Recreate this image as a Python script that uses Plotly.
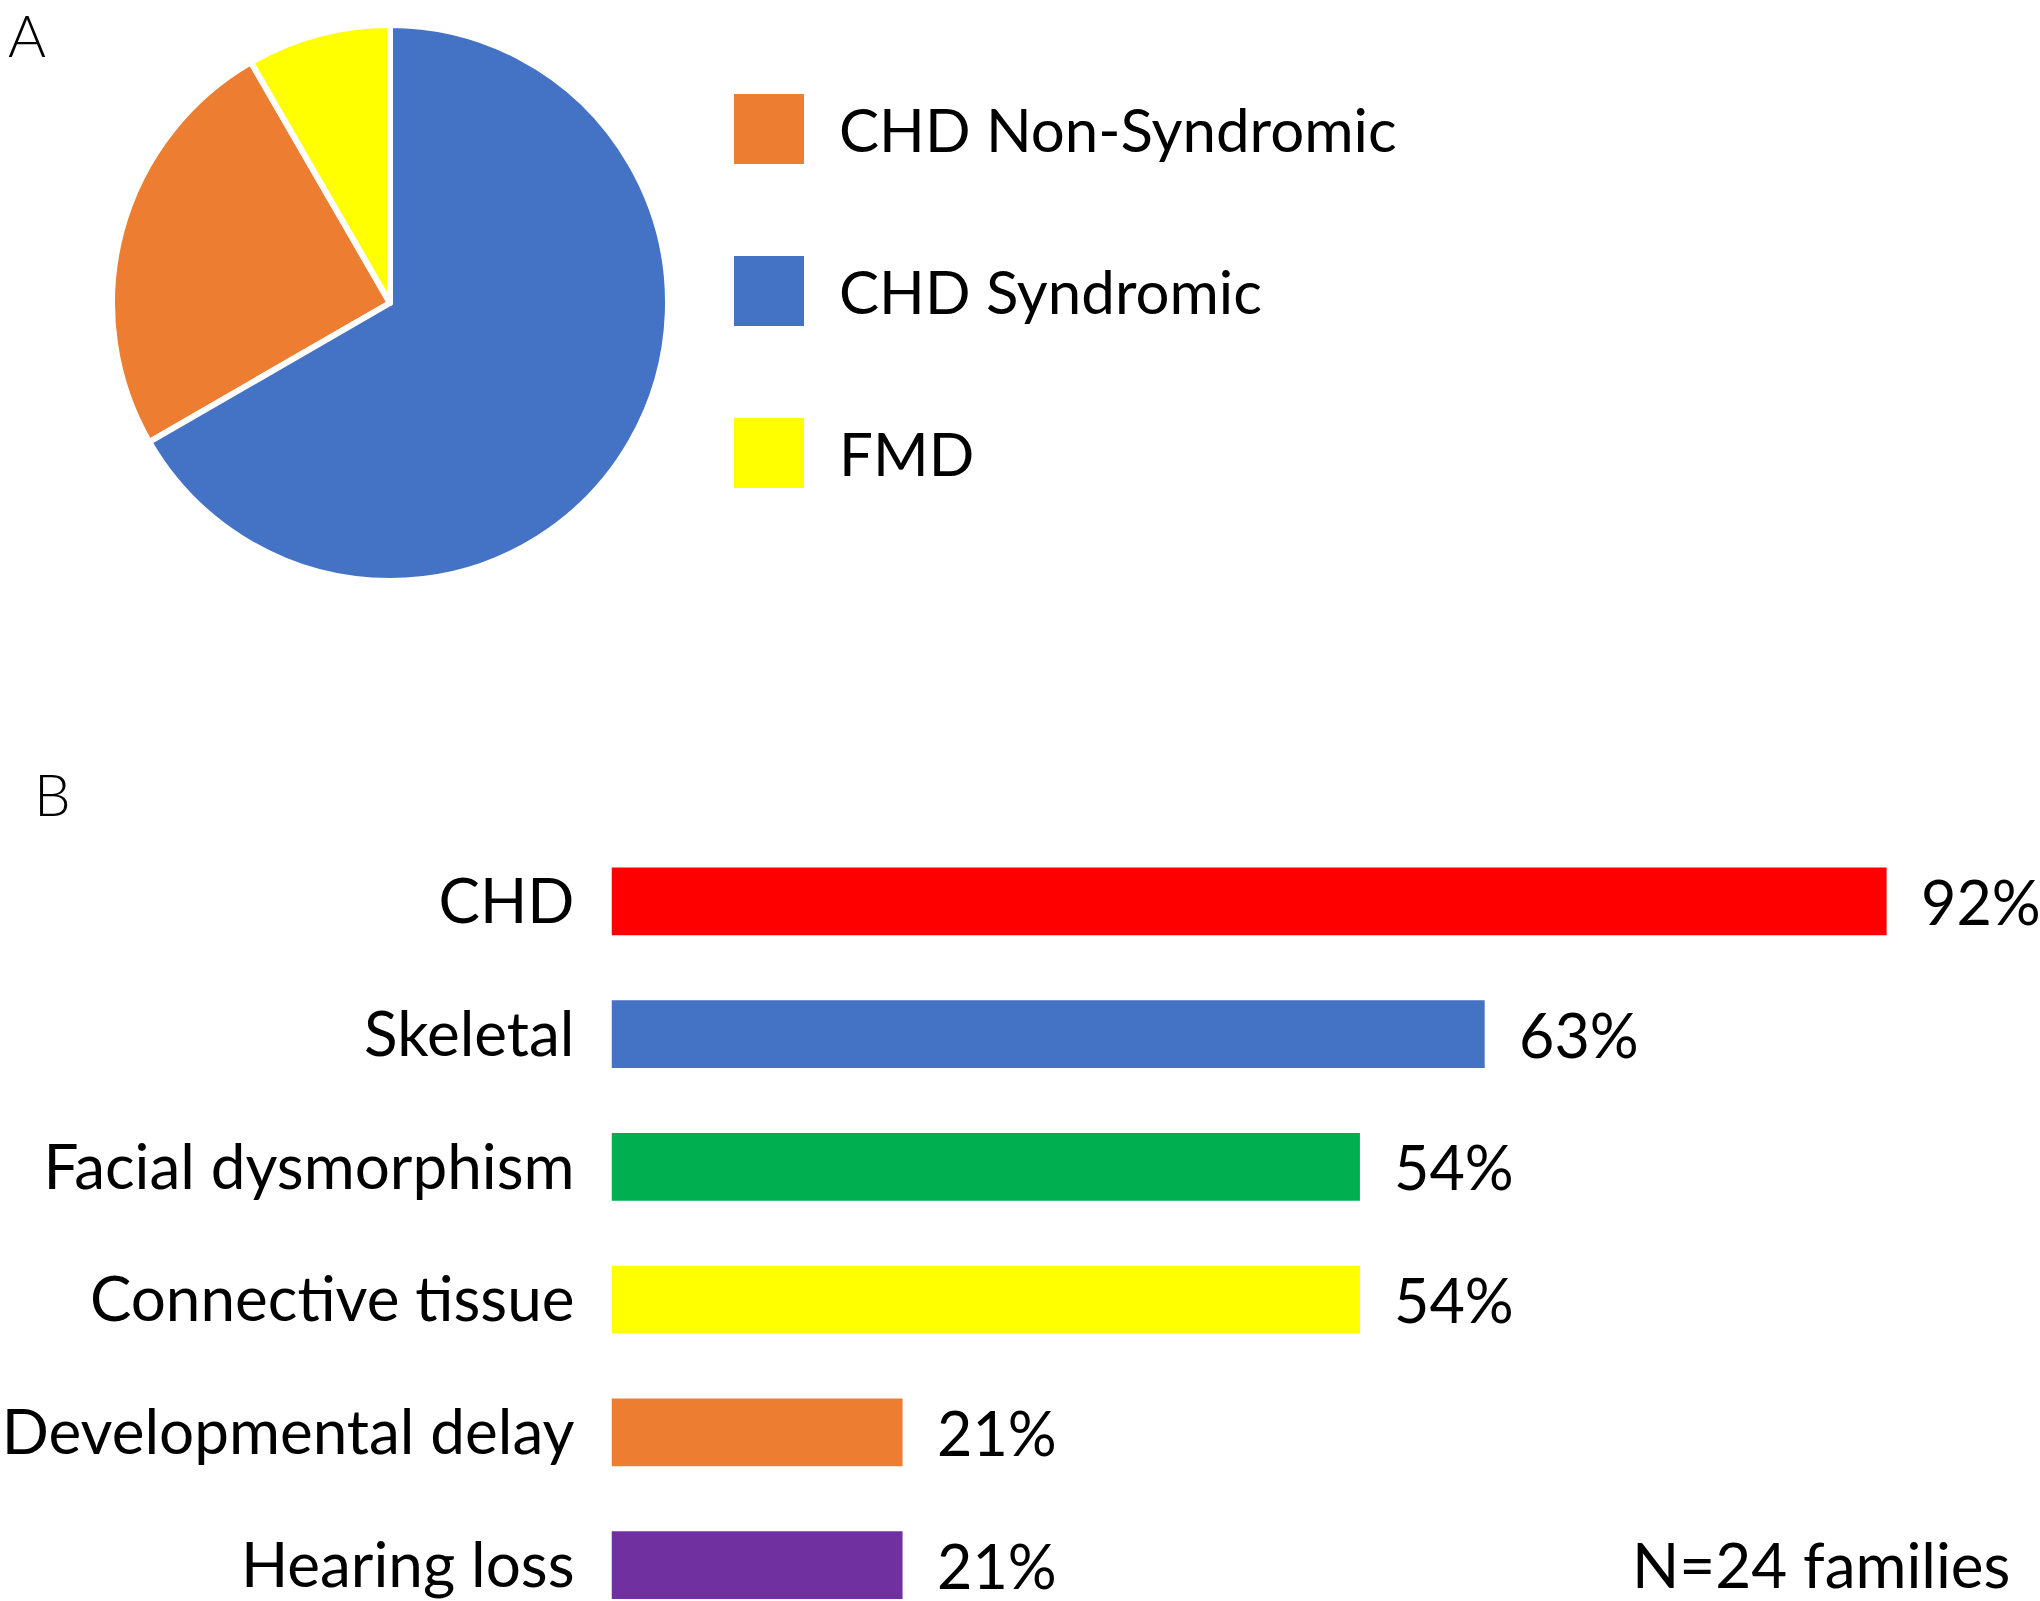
import plotly.graph_objects as go

# ---- data ----
pie_labels = ["CHD Non-Syndromic", "CHD Syndromic", "FMD"]
pie_values = [6, 16, 2]
pie_colors = ["#ED7D31", "#4472C4", "#FFFF00"]

bar_categories = ["CHD", "Skeletal", "Facial dysmorphism", "Connective tissue",
                  "Developmental delay", "Hearing loss"]
bar_values = [92, 63, 54, 54, 21, 21]
bar_colors = ["#FF0000", "#4472C4", "#00B050", "#FFFF00", "#ED7D31", "#7030A0"]
bar_text = ["92%", "63%", "54%", "54%", "21%", "21%"]
note_text = "N=24 families"

W, H = 2040, 1601
FONT = "Lato"
FS = 62

fig = go.Figure()

# Pie (panel A)
cx, cy, r = 390, 303, 278
fig.add_trace(go.Pie(
    labels=pie_labels, values=pie_values, sort=False,
    direction="counterclockwise", rotation=240,
    marker=dict(colors=pie_colors, line=dict(color="white", width=6)),
    textinfo="none", hoverinfo="label+value", showlegend=False,
    domain=dict(x=[(cx - r) / W, (cx + r) / W], y=[1 - (cy + r) / H, 1 - (cy - r) / H]),
))

# Bars (panel B)
fig.add_trace(go.Bar(
    x=bar_values, y=bar_categories, orientation="h",
    marker=dict(color=bar_colors, line=dict(width=0)),
    width=0.51, showlegend=False, xaxis="x", yaxis="y",
))

x0_px = 611.5
px_per_pct = 13.86
y_top_px = 835
unit_px = 132.75
span = (H - y_top_px) / unit_px

annotations = []
for cat, v, t in zip(bar_categories, bar_values, bar_text):
    annotations.append(dict(x=v, y=cat, xref="x", yref="y", text=t, showarrow=False,
                            xanchor="left", yanchor="middle", xshift=32,
                            font=dict(family=FONT, size=61, color="black")))

# Manual legend for pie
leg_x0, leg_size = 734, 70
leg_rows = [129, 291, 453]
shapes = []
for lab, col, yc in zip(pie_labels, pie_colors, leg_rows):
    shapes.append(dict(type="rect", xref="paper", yref="paper",
                       x0=leg_x0 / W, x1=(leg_x0 + leg_size) / W,
                       y0=1 - (yc + leg_size / 2) / H, y1=1 - (yc - leg_size / 2) / H,
                       fillcolor=col, line=dict(width=0)))
    annotations.append(dict(x=837 / W, y=1 - yc / H, xref="paper", yref="paper", text=lab,
                            showarrow=False, xanchor="left", yanchor="middle",
                            font=dict(family=FONT, size=60, color="black")))

annotations.append(dict(x=6 / W, y=1, xref="paper", yref="paper", text="A",
                        showarrow=False, xanchor="left", yanchor="top", yshift=2,
                        font=dict(family=FONT, size=58, color="black", weight=300)))
annotations.append(dict(x=32 / W, y=1 - 770 / H, xref="paper", yref="paper", text="B",
                        showarrow=False, xanchor="left", yanchor="top", yshift=13,
                        font=dict(family=FONT, size=58, color="black", weight=300)))
annotations.append(dict(x=2012 / W, y=1 - 1564 / H, xref="paper", yref="paper", text=note_text,
                        showarrow=False, xanchor="right", yanchor="middle",
                        font=dict(family=FONT, size=FS, color="black")))

fig.update_layout(
    template="none",
    width=W, height=H, margin=dict(l=0, r=0, t=0, b=0, pad=0, autoexpand=False),
    paper_bgcolor="white", plot_bgcolor="white",
    xaxis=dict(domain=[x0_px / W, 1.0], range=[0, (W - x0_px) / px_per_pct],
               visible=False, fixedrange=True, automargin=False),
    yaxis=dict(domain=[0, 1 - y_top_px / H], range=[span - 0.5, -0.5],
               type="category", showgrid=False, zeroline=False, showline=False,
               ticks="", ticklabelstandoff=36, automargin=False,
               tickfont=dict(family=FONT, size=FS, color="black")),
    annotations=annotations, shapes=shapes,
    font=dict(family=FONT),
)

fig.write_html("out.html", config={"displayModeBar": False},
               post_script="document.body.style.margin='0';document.body.style.overflow='hidden';")
